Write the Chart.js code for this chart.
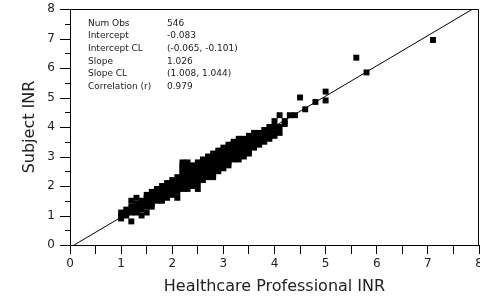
<!DOCTYPE html>
<html><head><meta charset="utf-8">
<script src="https://cdn.jsdelivr.net/npm/chart.js@4/dist/chart.umd.min.js"></script>
<style>html,body{margin:0;padding:0;background:#fff}#clip{width:480px;height:300px;overflow:hidden;position:relative}#wrap{width:490px;height:300px;position:relative}</style>
</head><body><div id="clip"><div id="wrap"><canvas id="c"></canvas></div></div>
<script>
// Healthcare professional INR columns (x) and the subject INR readings (y) seen in each column
const professionalINR = [1.0,1.1,1.2,1.3,1.4,1.5,1.6,1.7,1.8,1.9,2.0,2.1,2.2,2.3,2.4,2.5,2.6,2.7,2.8,2.9,3.0,3.1,3.2,3.3,3.4,3.5,3.6,3.7,3.8,3.9,4.0,4.1,4.2,4.3,4.4,4.5,4.6,4.8,5.0,5.6,5.8,7.1];
const subjectINR = [
  [0.9,1.0,1.1],
  [1.0,1.1,1.2],
  [0.8,1.1,1.2,1.3,1.5],
  [1.1,1.2,1.3,1.4,1.6],
  [1.0,1.2,1.3,1.4,1.5],
  [1.1,1.3,1.4,1.5,1.6,1.7],
  [1.3,1.4,1.5,1.6,1.7,1.8],
  [1.5,1.6,1.7,1.8,1.9],
  [1.5,1.6,1.7,1.8,1.9,2.0],
  [1.6,1.7,1.8,1.9,2.0,2.1],
  [1.7,1.8,1.9,2.0,2.1,2.2],
  [1.6,1.8,1.9,2.0,2.1,2.2,2.3],
  [1.9,2.0,2.1,2.2,2.3,2.4,2.5,2.6,2.7,2.8],
  [1.9,2.0,2.1,2.2,2.3,2.4,2.5,2.6,2.7,2.8],
  [2.0,2.1,2.2,2.3,2.4,2.5,2.6,2.7],
  [1.9,2.1,2.2,2.3,2.4,2.5,2.6,2.7,2.8],
  [2.2,2.3,2.4,2.5,2.6,2.7,2.8,2.9],
  [2.3,2.4,2.5,2.6,2.7,2.8,2.9,3.0],
  [2.3,2.4,2.5,2.6,2.7,2.8,2.9,3.0,3.1],
  [2.5,2.6,2.7,2.8,2.9,3.0,3.1,3.2],
  [2.6,2.7,2.8,2.9,3.0,3.1,3.2,3.3],
  [2.7,2.8,2.9,3.0,3.1,3.2,3.3,3.4],
  [2.9,3.0,3.1,3.2,3.3,3.4,3.5],
  [2.9,3.0,3.1,3.2,3.3,3.4,3.5,3.6],
  [3.0,3.1,3.2,3.3,3.4,3.5,3.6],
  [3.1,3.2,3.3,3.4,3.5,3.6,3.7],
  [3.3,3.4,3.5,3.6,3.7,3.8],
  [3.4,3.5,3.6,3.8],
  [3.5,3.6,3.7,3.9],
  [3.6,3.7,3.8,4.0],
  [3.7,3.8,4.0,4.2],
  [3.8,4.0,4.4],
  [4.1,4.2],
  [4.4],
  [4.4],
  [5.0],
  [4.6],
  [4.85],
  [4.9,5.2],
  [6.35],
  [5.85],
  [6.95]
];
const statLabels = ['Num Obs','Intercept','Intercept CL','Slope','Slope CL','Correlation (r)'];
const statValues = ['546','-0.083','(-0.065, -0.101)','1.026','(1.008, 1.044)','0.979'];
const intercept = -0.083;
const slope = 1.026;
const axisRange = [0, 8];
const yTickValues = [0,0.5,1,1.5,2,2.5,3,3.5,4,4.5,5,5.5,6,6.5,7,7.5,8];

const points = [];
professionalINR.forEach((x, i) => subjectINR[i].forEach(y => points.push({x, y})));
const lineStartX = -intercept / slope;
const lineEndX = (axisRange[1] - intercept) / slope;
const fitLine = [{x: lineStartX, y: intercept + slope * lineStartX}, {x: lineEndX, y: intercept + slope * lineEndX}];

const FONT = "'DejaVu Sans', 'Noto Sans', sans-serif";

const deco = {
  id: 'deco',
  afterDraw(chart) {
    const {ctx, chartArea: a, scales: {y}} = chart;
    ctx.save();
    ctx.strokeStyle = '#000';
    ctx.lineWidth = 1;
    ctx.beginPath();
    ctx.moveTo(a.left, a.top + 0.5); ctx.lineTo(a.right - 0.5, a.top + 0.5);
    ctx.lineTo(a.right - 0.5, a.bottom);
    ctx.stroke();
    // y axis ticks: long at whole numbers, short at halves
    ctx.beginPath();
    yTickValues.forEach(v => {
      const py = Math.round(y.getPixelForValue(v)) + 0.5;
      const len = Number.isInteger(v) ? 10 : 5;
      ctx.moveTo(a.left - len, py); ctx.lineTo(a.left, py);
    });
    ctx.stroke();
    // statistics box
    ctx.fillStyle = '#222';
    ctx.font = "9px " + FONT;
    ctx.textBaseline = 'middle';
    statLabels.forEach((t, i) => {
      const ty = 23.3 + i * 12.7;
      ctx.fillText(t, 88, ty);
      ctx.fillText(statValues[i], 167, ty);
    });
    ctx.restore();
  }
};

new Chart(document.getElementById('c'), {
  type: 'scatter',
  data: {
    datasets: [
      {type: 'scatter', data: points, pointStyle: 'rect', pointRadius: 4.2, pointHoverRadius: 4.2,
       backgroundColor: '#000', borderWidth: 0, order: 2},
      {type: 'line', data: fitLine, borderColor: '#000', borderWidth: 1, pointRadius: 0, fill: false, order: 1}
    ]
  },
  plugins: [deco],
  options: {
    responsive: true, maintainAspectRatio: false, animation: false,
    layout: {padding: {top: 9, right: 11, left: 0, bottom: 0}},
    plugins: {legend: {display: false}, tooltip: {enabled: false}},
    scales: {
      x: {
        type: 'linear', min: axisRange[0], max: axisRange[1],
        border: {display: true, color: '#000', width: 1},
        grid: {display: true, drawOnChartArea: false, drawTicks: true, tickLength: 9, color: '#000'},
        ticks: {stepSize: 0.5, autoSkip: false, maxRotation: 0, padding: 3, color: '#222',
                font: {family: FONT, size: 12},
                callback: v => Number.isInteger(v) ? String(v) : ''},
        title: {display: true, text: 'Healthcare Professional INR', color: '#222',
                font: {family: FONT, size: 16}, padding: {top: 0, bottom: 4}},
        afterFit: s => { s.height = 55; }
      },
      y: {
        type: 'linear', min: axisRange[0], max: axisRange[1],
        border: {display: true, color: '#000', width: 1},
        grid: {display: true, drawOnChartArea: false, drawTicks: true, tickLength: 15,
               color: '#000', tickColor: 'rgba(0,0,0,0)'},
        ticks: {stepSize: 1, autoSkip: false, padding: 0, color: '#222',
                font: {family: FONT, size: 12}},
        title: {display: true, text: 'Subject INR', color: '#222',
                font: {family: FONT, size: 16}, padding: {top: 20, bottom: 0}},
        afterFit: s => { s.width = 70; }
      }
    }
  }
});
</script></body></html>
